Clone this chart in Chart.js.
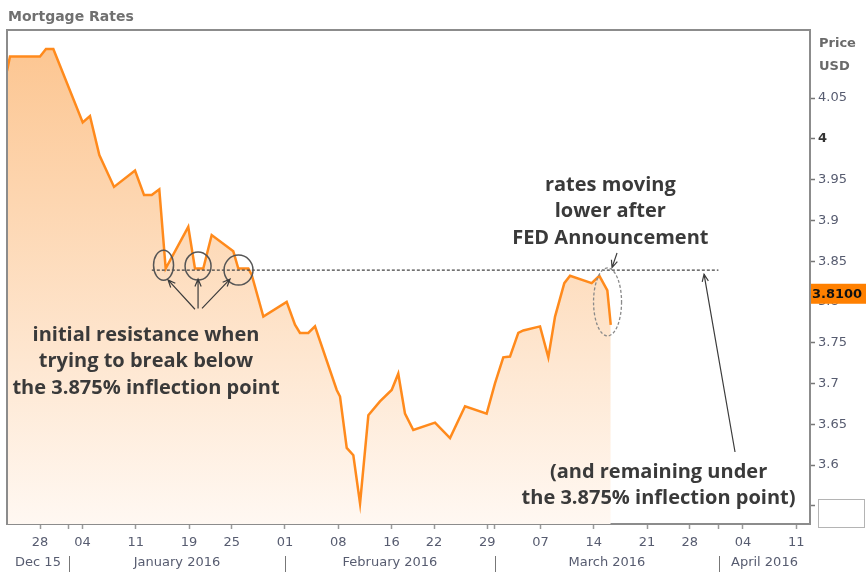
<!DOCTYPE html>
<html>
<head>
<meta charset="utf-8">
<script src="https://cdn.jsdelivr.net/npm/chart.js@4.4.1/dist/chart.umd.min.js"></script>
<style>
  body { margin: 0; background: #fff; }
  #wrap { width: 866px; height: 576px; }
</style>
</head>
<body>
<div id="wrap"><canvas id="rateChart" width="866" height="576"></canvas></div>
<script>
// x = trading days counted from Mon 28 Dec 2015 (fractional, the feed ticks intraday)
const pointDay = [-3.1, -2.82, 0, 0.56, 1.25, 4.01, 4.69, 5.57, 6.95, 8.92, 9.77, 10.49, 11.2, 11.8,
  13.92, 14.55, 15.33, 16.12, 18.15, 18.62, 19.56, 19.88, 20.97, 23.16, 23.94, 24.41, 25.19, 25.82,
  27.86, 28.17, 28.8, 29.42, 30.05, 30.83, 31.92, 33.02, 33.64, 34.27, 35.05, 37.09, 38.5, 39.91,
  41.94, 42.72, 43.5, 44.13, 44.91, 45.38, 46.95, 47.73, 48.36, 49.23, 49.77, 51.8, 52.52, 53.27, 53.59];
const rates = [4.083, 4.101, 4.101, 4.110, 4.110, 4.020, 4.028, 3.980, 3.941, 3.961, 3.931, 3.931, 3.938, 3.841,
  3.892, 3.841, 3.841, 3.882, 3.862, 3.841, 3.841, 3.833, 3.782, 3.800, 3.772, 3.762, 3.762, 3.770,
  3.692, 3.684, 3.621, 3.612, 3.553, 3.661, 3.678, 3.692, 3.712, 3.663, 3.643, 3.652, 3.633, 3.672,
  3.663, 3.700, 3.732, 3.733, 3.762, 3.765, 3.770, 3.732, 3.782, 3.823, 3.832, 3.823, 3.832, 3.814, 3.772];

const tickDay = [0, 4, 9, 14, 18, 23, 28, 33, 37, 42, 47, 52, 57, 61, 66, 71];
const tickLabels = ['28', '04', '11', '19', '25', '01', '08', '16', '22', '29', '07', '14', '21', '28', '04', '11'];
const monthEdges = [2.72, 23, 42.72, 63.75];
const monthNames = ['Dec 15', 'January 2016', 'February 2016', 'March 2016', 'April 2016'];

const priceTicks = [3.55, 3.6, 3.65, 3.7, 3.75, 3.8, 3.85, 3.9, 3.95, 4, 4.05];
const priceLabels = ['', '3.6', '3.65', '3.7', '3.75', '3.8', '3.85', '3.9', '3.95', '4', '4.05'];
const lastPrice = 3.81;
const resistance = 3.839;

const GREY = '#575c70';
const FRAME = '#8c8c8c';

// annotation marks, in data units
const circles = [[11.6, 3.845, 10, 15], [14.84, 3.844, 13, 14], [18.64, 3.839, 14.5, 15]];
const arrows = [
  [14.55, 3.791, 12.02, 3.827],
  [14.84, 3.792, 14.84, 3.828],
  [15.21, 3.792, 17.84, 3.828],
  [54.18, 3.860, 53.71, 3.842],
  [65.26, 3.616, 62.35, 3.834]
];
const notes = [
  [9.95, 3.7594, ['initial resistance when', 'trying to break below', 'the 3.875% inflection point']],
  [53.55, 3.9433, ['rates moving', 'lower after', 'FED Announcement']],
  [58.08, 3.5914, ['(and remaining under', 'the 3.875% inflection point)']]
];

function arrow(ctx, x1, y1, x2, y2) {
  const a = Math.atan2(y2 - y1, x2 - x1);
  ctx.beginPath();
  ctx.moveTo(x1, y1);
  ctx.lineTo(x2, y2);
  ctx.moveTo(x2 - 8 * Math.cos(a - 0.4), y2 - 8 * Math.sin(a - 0.4));
  ctx.lineTo(x2, y2);
  ctx.lineTo(x2 - 8 * Math.cos(a + 0.4), y2 - 8 * Math.sin(a + 0.4));
  ctx.stroke();
}

const decorations = {
  id: 'decorations',
  afterDatasetsDraw(chart) {
    const ctx = chart.ctx;
    const xs = chart.scales.x, ys = chart.scales.y;
    ctx.save();

    // resistance line
    ctx.strokeStyle = '#444';
    ctx.lineWidth = 1.3;
    ctx.setLineDash([3, 2]);
    ctx.beginPath();
    ctx.moveTo(xs.getPixelForValue(10.5), ys.getPixelForValue(resistance));
    ctx.lineTo(xs.getPixelForValue(63.7), ys.getPixelForValue(resistance));
    ctx.stroke();

    // dashed ellipse round the FED drop
    ctx.strokeStyle = '#8a8a8a';
    ctx.beginPath();
    ctx.ellipse(xs.getPixelForValue(53.29), ys.getPixelForValue(3.80), 14, 34, 0, 0, Math.PI * 2);
    ctx.stroke();
    ctx.setLineDash([]);

    ctx.strokeStyle = '#555';
    ctx.lineWidth = 1.5;
    circles.forEach(([cx, cy, rx, ry]) => {
      ctx.beginPath();
      ctx.ellipse(xs.getPixelForValue(cx), ys.getPixelForValue(cy), rx, ry, 0, 0, Math.PI * 2);
      ctx.stroke();
    });

    ctx.strokeStyle = '#3c3c3c';
    ctx.lineWidth = 1.2;
    arrows.forEach(([x1, y1, x2, y2]) => {
      arrow(ctx, xs.getPixelForValue(x1), ys.getPixelForValue(y1), xs.getPixelForValue(x2), ys.getPixelForValue(y2));
    });

    ctx.fillStyle = '#3a3a3a';
    ctx.font = 'bold 20px "Open Sans"';
    ctx.textAlign = 'center';
    ctx.textBaseline = 'middle';
    notes.forEach(([nx, ny, lines]) => {
      const px = xs.getPixelForValue(nx);
      const py = ys.getPixelForValue(ny);
      lines.forEach((t, i) => ctx.fillText(t, px, py + i * 26.5));
    });
    ctx.restore();
  },
  afterDraw(chart) {
    const ctx = chart.ctx;
    const a = chart.chartArea;
    const xs = chart.scales.x, ys = chart.scales.y;
    ctx.save();

    // top and left edges of the frame
    ctx.strokeStyle = FRAME;
    ctx.lineWidth = 2;
    ctx.beginPath();
    ctx.moveTo(a.left, a.bottom);
    ctx.lineTo(a.left, a.top);
    ctx.lineTo(a.right, a.top);
    ctx.stroke();

    // title and axis unit
    ctx.fillStyle = '#707070';
    ctx.font = 'bold 14px "DejaVu Sans"';
    ctx.textAlign = 'left';
    ctx.textBaseline = 'alphabetic';
    ctx.fillText('Mortgage Rates', 8, 21);
    ctx.fillStyle = '#6a6a6a';
    ctx.font = 'bold 13px "DejaVu Sans"';
    ctx.fillText('Price', a.right + 9, 47);
    ctx.fillText('USD', a.right + 9, 70);

    // month row
    const edges = [a.left].concat(monthEdges.map(v => xs.getPixelForValue(v)), [a.right]);
    ctx.fillStyle = GREY;
    ctx.font = '13px "DejaVu Sans"';
    ctx.textAlign = 'center';
    ctx.textBaseline = 'middle';
    monthNames.forEach((m, i) => ctx.fillText(m, (edges[i] + edges[i + 1]) / 2, 563));
    ctx.strokeStyle = '#777';
    ctx.lineWidth = 1;
    monthEdges.forEach(v => {
      const px = Math.round(xs.getPixelForValue(v)) + 0.5;
      ctx.beginPath();
      ctx.moveTo(px, 556);
      ctx.lineTo(px, 572);
      ctx.stroke();
    });

    // empty box at the lowest price tick
    const yb = ys.getPixelForValue(priceTicks[0]);
    ctx.strokeStyle = '#b4b4b4';
    ctx.strokeRect(a.right + 8.5, Math.round(yb) - 6.5, 46, 28);

    // last price marker
    const yl = ys.getPixelForValue(lastPrice);
    ctx.fillStyle = '#ff8000';
    ctx.fillRect(a.right + 1, yl - 10, 56, 20);
    ctx.fillStyle = '#111';
    ctx.font = 'bold 13px "DejaVu Sans"';
    ctx.textAlign = 'left';
    ctx.fillText(lastPrice.toFixed(4), a.right + 2, yl + 1);
    ctx.restore();
  }
};

const canvas = document.getElementById('rateChart');
new Chart(canvas, {
  type: 'line',
  data: {
    datasets: [{
      data: rates.map((r, i) => ({x: pointDay[i], y: r})),
      borderColor: '#ff8a1c',
      borderWidth: 2.5,
      pointRadius: 0,
      tension: 0,
      fill: 'start',
      backgroundColor: (c) => {
        const area = c.chart.chartArea;
        if (!area) return 'rgba(252,200,150,0.5)';
        const g = c.chart.ctx.createLinearGradient(0, area.top, 0, area.bottom);
        g.addColorStop(0, 'rgb(252,196,142)');
        g.addColorStop(1, 'rgb(255,248,242)');
        return g;
      }
    }]
  },
  options: {
    responsive: false,
    animation: false,
    events: [],
    layout: {padding: {left: 7, top: 30, right: 0, bottom: 0}},
    plugins: {
      legend: {display: false},
      tooltip: {enabled: false},
      title: {display: false}
    },
    scales: {
      x: {
        type: 'linear',
        min: -3.1,
        max: 72.3,
        afterBuildTicks: (scale) => {
          const vals = tickDay.concat(monthEdges.filter(v => !tickDay.includes(v))).sort((p, q) => p - q);
          scale.ticks = vals.map(v => ({value: v}));
        },
        afterFit: (scale) => { scale.height = 52; },
        border: {color: FRAME, width: 2},
        grid: {drawOnChartArea: false, drawTicks: true, tickLength: 5, tickColor: '#9a9a9a', tickWidth: 1.5},
        ticks: {
          autoSkip: false,
          maxRotation: 0,
          padding: 6,
          color: GREY,
          font: {family: '"DejaVu Sans"', size: 13},
          callback: (v) => {
            const i = tickDay.indexOf(v);
            return i >= 0 ? tickLabels[i] : '';
          }
        }
      },
      y: {
        position: 'right',
        min: 3.5277,
        max: 4.1334,
        afterBuildTicks: (scale) => { scale.ticks = priceTicks.map(v => ({value: v})); },
        afterFit: (scale) => { scale.width = 56; },
        border: {color: FRAME, width: 2},
        grid: {drawOnChartArea: false, drawTicks: true, tickLength: 5, tickColor: '#777', tickWidth: 1.5},
        ticks: {
          autoSkip: false,
          padding: 3,
          color: (c) => (c.tick && c.tick.value === 4 ? '#333' : GREY),
          font: (c) => ({family: '"DejaVu Sans"', size: 13, weight: c.tick && c.tick.value === 4 ? 'bold' : 'normal'}),
          callback: (v) => {
            const i = priceTicks.indexOf(v);
            return i >= 0 ? priceLabels[i] : '';
          }
        }
      }
    }
  },
  plugins: [decorations]
});
</script>
</body>
</html>
